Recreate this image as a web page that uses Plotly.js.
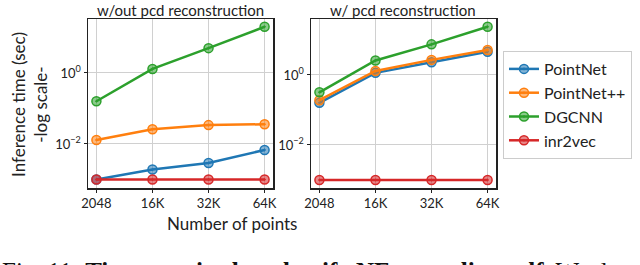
<!DOCTYPE html>
<html>
<head>
<meta charset="utf-8">
<script src="https://cdn.plot.ly/plotly-3.0.1.min.js"></script>
<style>html,body{margin:0;padding:0;background:#fff;}#chart{width:640px;height:265px;}</style>
</head>
<body>
<div id="chart"></div>
<script>
// ---- data ----
const points = ['2048', '16K', '32K', '64K'];
const seriesNames = ['PointNet', 'PointNet++', 'DGCNN', 'inr2vec'];
const seriesColors = ['#1f77b4', '#ff7f0e', '#2ca02c', '#d62728'];
const yTickVals = [0.01, 1];
const yTickText = ['10<sup>−2</sup>', '10<sup>0</sup>'];
// w/out pcd reconstruction (seconds)
const noRecPointNet   = [0.001, 0.0019, 0.0029, 0.0068];
const noRecPointNetPP = [0.013, 0.026, 0.034, 0.036];
const noRecDGCNN      = [0.16, 1.3, 5.0, 20];
const noRecInr2vec    = [0.001, 0.001, 0.001, 0.001];
// w/ pcd reconstruction (seconds)
const recPointNet   = [0.16, 1.15, 2.3, 4.6];
const recPointNetPP = [0.19, 1.3, 2.7, 5.2];
const recDGCNN      = [0.32, 2.6, 7.5, 24];
const recInr2vec    = [0.001, 0.001, 0.001, 0.001];

const panel1 = [noRecPointNet, noRecPointNetPP, noRecDGCNN, noRecInr2vec];
const panel2 = [recPointNet, recPointNetPP, recDGCNN, recInr2vec];

function hexA(hex, a){
  const r=parseInt(hex.slice(1,3),16),g=parseInt(hex.slice(3,5),16),b=parseInt(hex.slice(5,7),16);
  return `rgba(${r},${g},${b},${a})`;
}

const traces = [];
[panel1, panel2].forEach((panel, p) => {
  panel.forEach((vals, i) => {
    traces.push({
      x: points, y: vals,
      xaxis: p === 0 ? 'x' : 'x2',
      yaxis: p === 0 ? 'y' : 'y2',
      type: 'scatter', mode: 'lines+markers',
      name: seriesNames[i],
      legendgroup: seriesNames[i],
      showlegend: p === 0,
      line: {color: seriesColors[i], width: 2.5},
      marker: {symbol: 'circle-dot', size: 9, color: hexA(seriesColors[i], 0.55),
               line: {color: seriesColors[i], width: 1.5}}
    });
  });
});

const W = 640, H = 265;
const px = v => v / W;
const py = v => 1 - v / H;

const font = 'Lato, "Open Sans", sans-serif';
const axisCommonX = {
  type: 'category', range: [-0.15, 3.15],
  showline: true, mirror: true, linecolor: '#222', linewidth: 1.5,
  showgrid: true, gridcolor: '#d0d0d0', gridwidth: 1,
  ticks: 'outside', ticklen: 3, tickcolor: '#222',
  tickfont: {family: font, size: 13, color: '#222'},
  zeroline: false, fixedrange: true
};
const axisCommonY = {
  type: 'log', tickmode: 'array', tickvals: yTickVals, ticktext: yTickText,
  showline: true, mirror: true, linecolor: '#222', linewidth: 1.5,
  showgrid: true, gridcolor: '#d0d0d0', gridwidth: 1,
  ticks: 'outside', ticklen: 3, tickcolor: '#222',
  tickfont: {family: font, size: 13, color: '#222'},
  zeroline: false, fixedrange: true,
  domain: [py(188), py(19)]
};

const layout = {
  width: W, height: H,
  margin: {l: 0, r: 0, t: 0, b: 0},
  paper_bgcolor: '#fff', plot_bgcolor: '#fff',
  font: {family: font, color: '#222'},
  xaxis: Object.assign({}, axisCommonX, {domain: [px(88), px(273)], anchor: 'y'}),
  yaxis: Object.assign({}, axisCommonY, {range: [-3.24, 1.52], anchor: 'x'}),
  xaxis2: Object.assign({}, axisCommonX, {domain: [px(311), px(496)], anchor: 'y2'}),
  yaxis2: Object.assign({}, axisCommonY, {range: [-3.23, 1.6], anchor: 'x2'}),
  showlegend: true,
  legend: {
    x: px(503), y: py(51), xanchor: 'left', yanchor: 'top',
    bordercolor: '#cccccc', borderwidth: 1, bgcolor: '#fff',
    font: {family: font, size: 16, color: '#222'},
    tracegroupgap: 0
  },
  annotations: [
    {text: 'w/out pcd reconstruction', xref: 'paper', yref: 'paper', x: px(180), y: py(10),
     xanchor: 'center', yanchor: 'middle', showarrow: false, font: {family: font, size: 15, color: '#222'}},
    {text: 'w/ pcd reconstruction', xref: 'paper', yref: 'paper', x: px(403), y: py(10),
     xanchor: 'center', yanchor: 'middle', showarrow: false, font: {family: font, size: 15, color: '#222'}},
    {text: 'Number of points', xref: 'paper', yref: 'paper', x: px(232), y: py(223),
     xanchor: 'center', yanchor: 'middle', showarrow: false, font: {family: font, size: 17, color: '#222'}},
    {text: 'Inference time (sec)<br>-log scale-', xref: 'paper', yref: 'paper', x: px(29), y: py(105),
     xanchor: 'center', yanchor: 'middle', showarrow: false, textangle: -90,
     font: {family: font, size: 17, color: '#222'}},
    {text: 'Fig. 11: <b>Time required to classify NFs encoding udf.</b> We d', xref: 'paper', yref: 'paper',
     x: 0, y: py(256), xanchor: 'left', yanchor: 'top', showarrow: false,
     font: {family: '"Liberation Serif", "DejaVu Serif", serif', size: 25, color: '#111'}}
  ]
};

Plotly.newPlot('chart', traces, layout, {displayModeBar: false, staticPlot: true});
</script>
</body>
</html>
